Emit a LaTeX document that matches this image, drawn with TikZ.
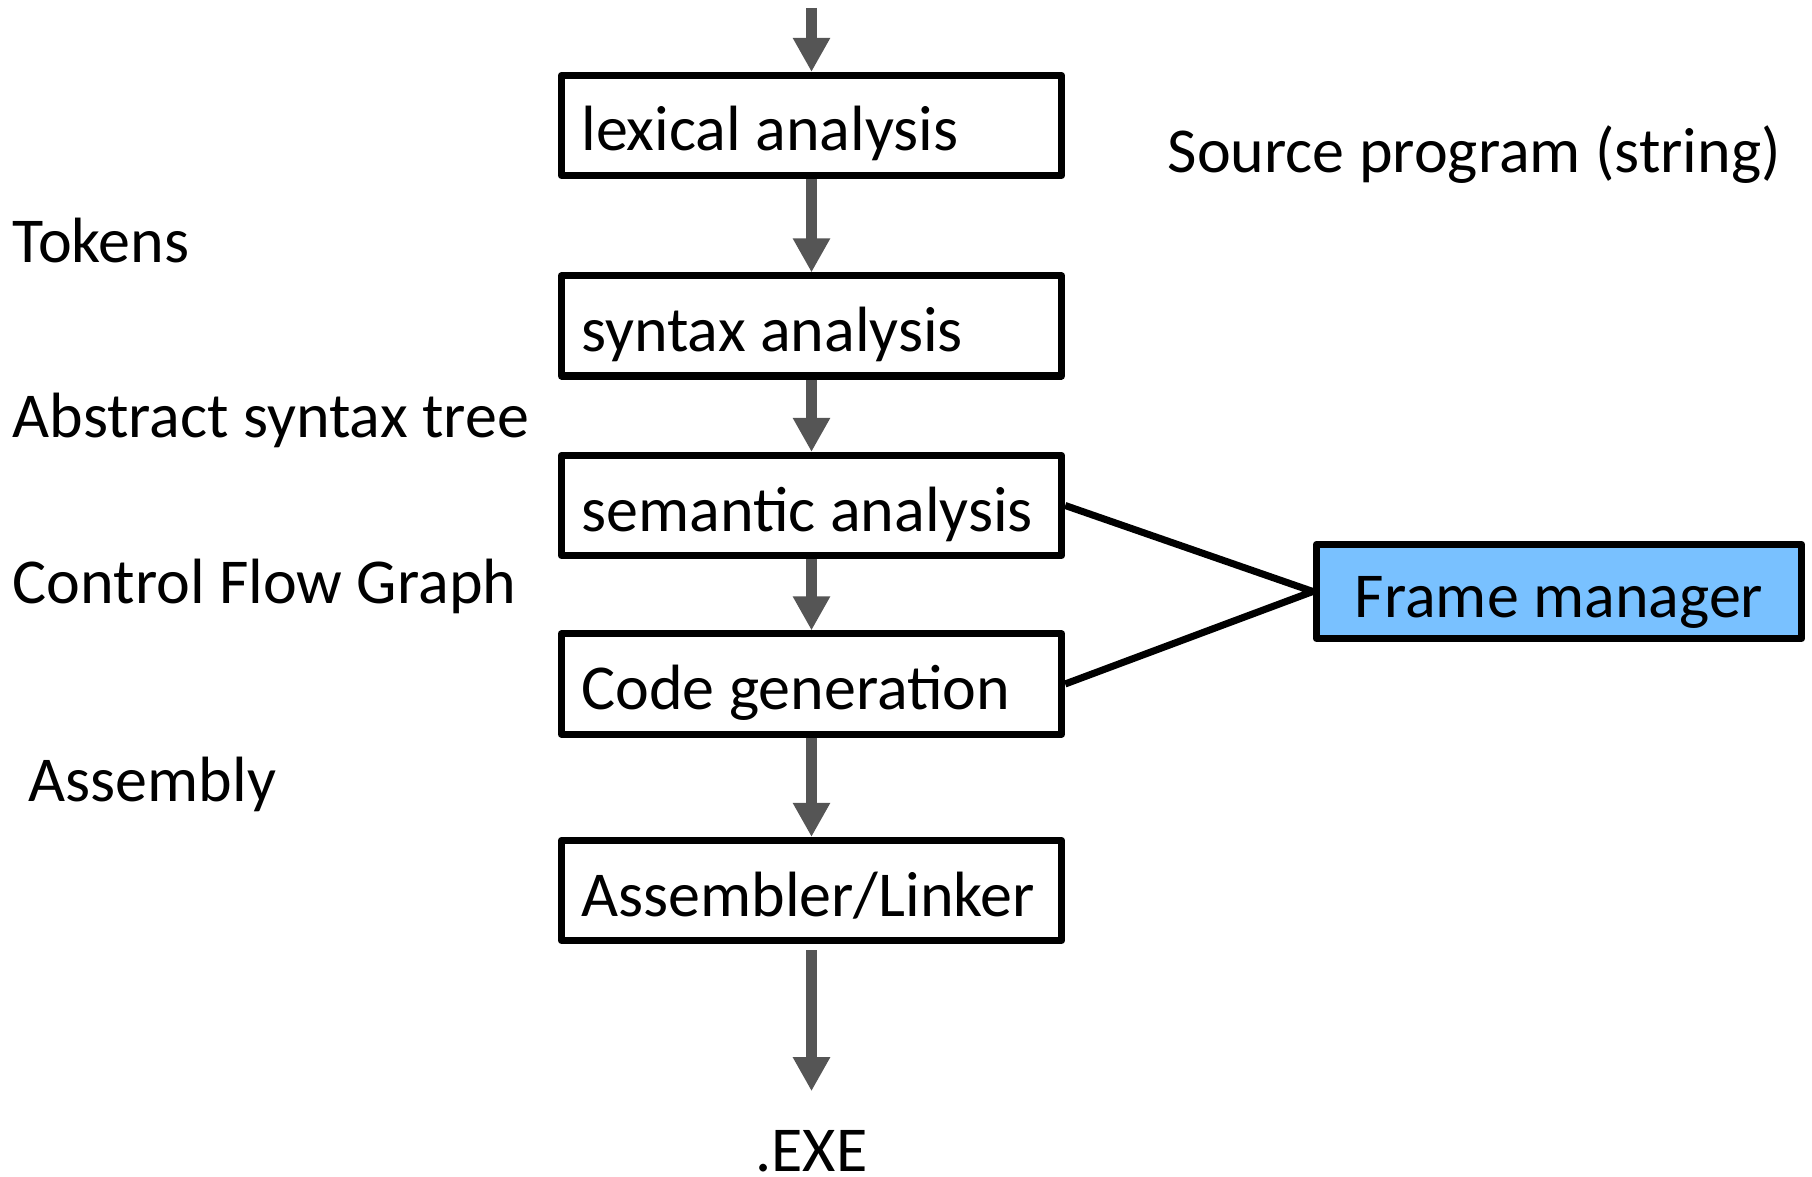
\documentclass[tikz,border=0pt]{standalone}
\usepackage{fontspec}
\setmainfont{Carlito}
\usetikzlibrary{arrows.meta}
\definecolor{xammui}{RGB}{85,85,85}
\definecolor{xanhnhat}{RGB}{121,193,255}
\begin{document}
\begin{tikzpicture}[x=0.01cm, y=-0.01cm, font=\fontsize{18.2}{22}\selectfont, line join=round,
		>={Triangle[width=3.5mm,length=3.4mm]},
		hop/.style={draw, line width=2pt, text width=4.6cm, align=flush left, inner sep=0.2cm,
			text height=0.51cm, text depth=0cm, minimum height=1cm},
		nhan/.style={anchor=base west, inner sep=0pt},
		muiten/.style={->, draw=xammui, line width=3.2pt}]
	%%Khung hinh
	\useasboundingbox (0,0) rectangle (1812,1177);
	\def \xtam{811.5}
	%%Cac buoc
	\node[hop] (lex) at (\xtam,125.5) {lexical analysis};
	\node[hop] (syn) at (\xtam,326) {syntax analysis};
	\node[hop] (sem) at (\xtam,505.5) {semantic analysis};
	\node[hop] (code) at (\xtam,684) {Code generation};
	\node[hop] (asm) at (\xtam,890.5) {Assembler/Linker};
	\node[draw, line width=2pt, fill=xanhnhat, minimum width=4.85cm, minimum height=0.94cm,
		text height=0.51cm, text depth=0cm] (frame) at (1559,591.5) {Frame manager};
	\node[anchor=base, inner sep=0pt] (exe) at (\xtam,1172) {.EXE};
	\coordinate (vao) at (\xtam,8);
	%%Nhan ben trai, ben phai
	\node[nhan] (src) at (1167,173) {Source program (string)};
	\node[nhan] (tok) at (12,263) {Tokens};
	\node[nhan] (ast) at (12,438) {Abstract syntax tree};
	\node[nhan] (cfg) at (12,604) {Control Flow Graph};
	\node[nhan] (asmb) at (28,802) {Assembly};
	%%Mui ten
	\draw[muiten] (vao)--(lex);
	\draw[muiten] (lex)--(syn);
	\draw[muiten] (syn)--(sem);
	\draw[muiten] (sem)--(code);
	\draw[muiten] (code)--(asm);
	\draw[muiten, shorten <=0.6mm, shorten >=3.9mm] (asm)--(exe);
	\draw[line width=2pt] (sem.east)--(frame.west)--(code.east);
\end{tikzpicture}
\end{document}
